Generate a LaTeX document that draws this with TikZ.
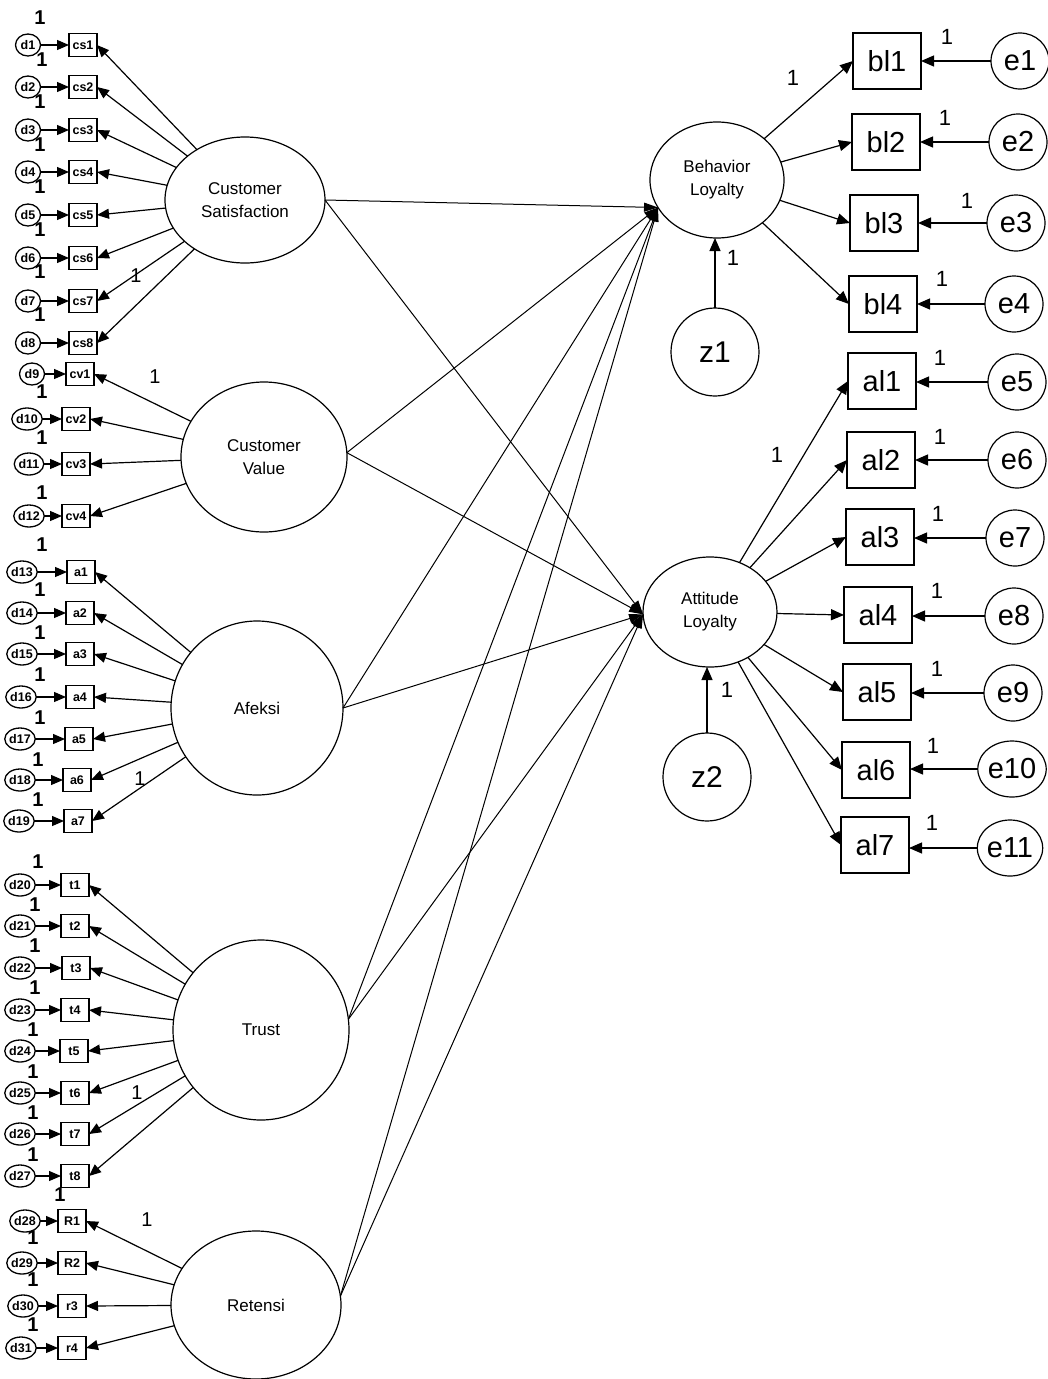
\documentclass[tikz,border=0pt]{standalone}
\usepackage{fontspec}
\setmainfont{Liberation Sans}
\usetikzlibrary{shapes.geometric,arrows.meta}
\begin{document}
\begin{tikzpicture}[x=1pt,y=-1pt,
  every node/.style={inner sep=0pt, outer sep=0pt},
  lat/.style={draw, line width=1.2pt, ellipse, align=center,
    font=\fontsize{17}{23}\selectfont},
  obsS/.style={draw, line width=1.3pt, minimum width=28pt, minimum height=23pt,
    font=\fontsize{12.5}{12}\selectfont\bfseries},
  errS/.style={draw, line width=1.3pt, ellipse, minimum width=25pt, minimum height=22pt,
    font=\fontsize{12.5}{12}\selectfont\bfseries},
  obsB/.style={draw, line width=1.2pt, minimum width=68pt, minimum height=56pt,
    font=\fontsize{29}{30}\selectfont},
  errB/.style={draw, line width=1.2pt, ellipse, minimum width=58pt, minimum height=56pt,
    font=\fontsize{29}{30}\selectfont},
  distB/.style={draw, line width=1.2pt, circle, minimum size=88pt,
    font=\fontsize{30}{30}\selectfont},
  arS/.style={line width=1.2pt, -{Triangle[length=12pt,width=10pt]}},
  arB/.style={line width=1.2pt, -{Triangle[length=13pt,width=11pt]}},
  arP/.style={line width=1pt, -{Triangle[length=14pt,width=9pt]}},
  oneS/.style={font=\fontsize{20}{20}\selectfont\bfseries},
  oneL/.style={font=\fontsize{20}{20}\selectfont},
  oneB/.style={font=\fontsize{22}{22}\selectfont},
]
\useasboundingbox (0,0) rectangle (1047,1379);

% ---------- latent constructs ----------
\node[lat, minimum width=160pt, minimum height=126pt] (cs) at (245,200) {Customer\\Satisfaction};
\node[lat, minimum width=166pt, minimum height=150pt] (cv) at (264,457) {Customer\\Value};
\node[lat, minimum width=172pt, minimum height=174pt] (af) at (257,708) {Afeksi};
\node[lat, minimum width=176pt, minimum height=180pt] (tr) at (261,1030) {Trust};
\node[lat, minimum width=170pt, minimum height=148pt] (re) at (256,1305) {Retensi};
\node[lat, minimum width=134pt, minimum height=116pt] (bl) at (717,180) {Behavior\\Loyalty};
\node[lat, minimum width=134pt, minimum height=110pt] (al) at (710,612) {Attitude\\Loyalty};
\node[distB] (z1) at (715,352) {z1};
\node[distB] (z2) at (707,777) {z2};

% ---------- exogenous indicators with their errors ----------
\foreach \b/\d/\dx/\bx/\y in {
  cs1/d1/28/83/45, cs2/d2/28/83/87, cs3/d3/28/83/130, cs4/d4/28/83/172,
  cs5/d5/28/83/215, cs6/d6/28/83/258, cs7/d7/28/83/301, cs8/d8/28/83/343,
  cv1/d9/32/80/374, cv2/d10/27/76/419, cv3/d11/29/76/464, cv4/d12/29/76/516,
  a1/d13/22/81/572, a2/d14/22/80/613, a3/d15/22/80/654, a4/d16/21/80/697,
  a5/d17/20/79/739, a6/d18/20/77/780, a7/d19/19/78/821,
  t1/d20/20/75/885, t2/d21/20/75/926, t3/d22/20/76/968, t4/d23/20/75/1010,
  t5/d24/20/74/1051, t6/d25/20/75/1093, t7/d26/20/75/1134, t8/d27/20/75/1176,
  R1/d28/25/72/1221, R2/d29/22/72/1263, r3/d30/23/72/1306, r4/d31/21/72/1348} {
  \node[obsS] (\b) at (\bx,\y) {\b};
  \node[errS] (\d) at (\dx,\y) {\d};
  \draw[arS] (\d) -- (\b);
}

% loadings of the exogenous constructs
\foreach \i in {1,...,8} \draw[arS] (cs) -- (cs\i.east);
\foreach \i in {1,...,4} \draw[arS] (cv) -- (cv\i.east);
\foreach \i in {1,...,7} \draw[arS] (af) -- (a\i.east);
\foreach \i in {1,...,8} \draw[arS] (tr) -- (t\i.east);
\foreach \b in {R1,R2,r3,r4} \draw[arS] (re) -- (\b.east);

% fixed error weights (left column)
\foreach \x/\y [count=\k] in {40/18, 42/60, 40/102, 40/145, 40/187, 40/230, 40/272, 40/315,
  42/392, 42/438, 42/493, 42/545, 40/590, 40/633, 40/675, 40/718, 38/760, 38/800,
  38/862, 35/905, 35/946, 35/988, 33/1030, 33/1072, 33/1113, 33/1155,
  60/1195, 33/1238, 33/1280, 33/1325}
  \node[oneS] (wl\k) at (\x,\y) {1};

% fixed loadings (left constructs)
\foreach \x/\y [count=\k] in {136/276, 155/377, 140/779, 137/1093, 147/1220}
  \node[oneL] (ll\k) at (\x,\y) {1};

% ---------- endogenous indicators ----------
\foreach \b/\e/\bx/\by/\ex/\ey in {
  bl1/e1/887/61/1020/61, bl2/e2/886/142/1018/142, bl3/e3/884/223/1016/223,
  bl4/e4/883/304/1014/304,
  al1/e5/882/381/1017/382, al2/e6/881/460/1017/460, al3/e7/880/537/1015/538,
  al4/e8/878/615/1014/616, al5/e9/877/692/1013/693, al6/e10/876/770/1012/769,
  al7/e11/875/845/1010/848} {
  \node[obsB] (\b) at (\bx,\by) {\b};
  \node[errB] (\e) at (\ex,\ey) {\e};
  \draw[arB] (\e.west) -- (\e.west -| \b.east);
}

\foreach \i in {1,...,4} \draw[arB] (bl) -- (bl\i.west);
\foreach \i in {1,...,7} \draw[arB] (al) -- (al\i.west);

% disturbances
\draw[arB] (z1.north) -- (z1.north |- bl.south);
\draw[arB] (z2.north) -- (z2.north |- al.south);

% fixed weights (right side)
\foreach \x/\y [count=\k] in {947/37, 945/118, 967/201, 942/279, 940/358, 940/437,
  938/514, 937/591, 937/669, 933/746, 932/823, 793/78, 777/455, 733/258, 727/690}
  \node[oneB] (wr\k) at (\x,\y) {1};

% ---------- structural paths ----------
\foreach \s in {cs.east, cv.3, af.east, tr.7, re.6} {
  \draw[arP] (\s) -- (bl.205);
  \draw[arP] (\s) -- (al.182);
}
\end{tikzpicture}
\end{document}
